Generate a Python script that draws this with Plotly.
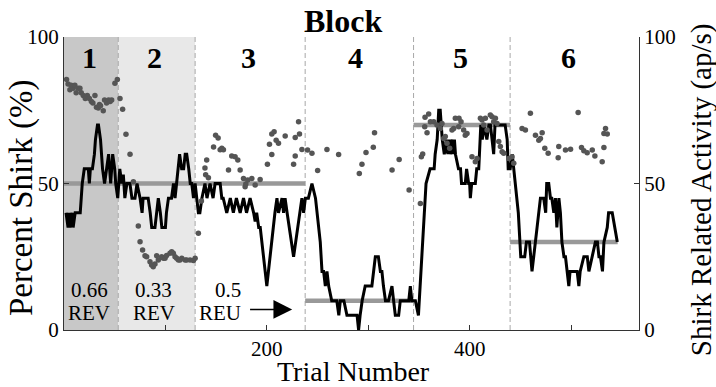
import plotly.graph_objects as go

# ---------------- data ----------------
line_trial = [2, 4, 5, 6, 8, 9, 11, 16, 17, 18, 20, 24, 25, 26, 28, 30, 31, 33, 34, 36, 37, 38, 40, 42, 44, 45, 46, 47, 48, 50, 51, 53, 54,
              55, 57, 58.5, 60, 62, 65, 67, 70, 72, 75, 77, 78, 83, 85, 86.5, 89.7, 91, 93, 95, 96.5, 100, 101, 103, 106, 108, 109.5, 111,
              114, 116, 118, 119.5, 121, 123, 124.5, 126, 127.7, 129.3,
              131, 132.5, 134, 136, 139, 141, 144, 147, 149, 154, 155.6, 157, 160.5, 164, 167, 170, 173.7, 177, 180, 183.5, 187, 188.5,
              190, 192, 193.5, 200, 208, 210, 211.5, 215, 216.5, 218, 220, 226.4, 234.6, 236.3, 238, 241, 244.5, 248, 252.7, 254.4, 256,
              257.7, 259.3, 261, 264, 269, 271, 272.5, 276, 279, 289, 290.5, 292, 294, 297, 303.6, 307, 310, 312, 313.5, 315, 317, 320,
              323.4, 325, 326.7, 330, 331.6, 340, 341.5, 343, 346.5, 349.5,
              357, 361, 365, 366, 368, 369.5, 371, 372, 373, 375, 377, 378.5, 380, 381, 383, 384, 385, 386, 389, 391, 392, 395.7, 397,
              399, 400, 400.7, 402, 405.6, 407, 409, 411, 412.5, 414, 417, 419, 420.5, 422, 423.7, 425, 428, 435, 437, 438, 440, 442,
              443.5, 445, 448,
              450.4, 454.3, 456, 459, 461.5, 463, 465, 466.5, 469.8, 473, 475, 476, 478, 479.7, 481, 483, 484.6, 486, 488, 489.5, 491,
              493, 494.5, 496, 497.8, 499, 506, 507.7, 509, 512.6, 516, 517.6, 521, 524, 526, 527.5, 529, 531, 532.4, 535.7, 537,
              540.6, 545.6]
line_pct = [40, 35, 40, 35, 40, 35, 40, 40, 45, 50, 55, 55, 50, 55, 55, 60, 65, 70, 70, 65, 60, 55, 50, 55, 60, 55, 50, 55, 60, 55, 50, 45, 50,
            55, 50, 53, 45, 50, 50, 45, 45, 50, 45, 40, 45, 45, 40, 35, 35, 40, 45, 40, 35, 35, 40, 45, 45, 50, 45, 50,
            60, 55, 55, 60, 60, 55, 50, 50, 45, 50,
            45, 40, 40, 45, 50, 45, 50, 45, 50, 50, 45, 45, 40, 45, 40, 45, 40, 45, 40, 45, 40, 37,
            40, 35, 35, 15, 40, 45, 40, 45, 40, 45, 40, 25, 45, 40, 45, 45, 50, 45, 30, 20, 20,
            15, 20, 15, 10, 10, 5, 10, 10, 5, 5, 0, 5, 10, 15, 15, 25, 25, 20, 20, 15, 10, 10,
            15, 10, 5, 5, 10, 10, 15, 10, 10, 5,
            50, 55, 55, 60, 65, 75, 75, 70, 65, 60, 65, 60, 65, 60, 65, 60, 65, 60, 55, 55, 50, 50, 55,
            50, 50, 45, 50, 50, 55, 55, 70, 65, 70, 65, 70, 70, 65, 60, 70, 70, 70, 65, 55, 55, 60,
            55, 50, 40,
            25, 25, 30, 30, 20, 25, 30, 35, 45, 45, 40, 50, 50, 45, 45, 40, 45, 35, 45, 40, 30,
            25, 25, 20, 15, 20, 20, 15, 20, 25, 25, 20, 25, 30, 30, 25, 25, 20, 30, 35, 40,
            40, 30]

dot_trial = [2.5, 4, 5.8, 7, 9, 10.7, 12, 14, 15.7, 17, 19, 21, 23, 25, 27, 28.5, 30.5, 32, 33.8, 35, 36, 38.7, 40, 42, 44, 45.5, 47, 50.2, 52.6,
             55.2, 57.8, 61.1, 65.1, 68.4, 73.3, 75, 77.5, 79.9, 81.5, 84.8, 86.4, 88, 89.7, 91.4, 93, 96.3, 98, 99.6, 101.2, 104.5,
             106.2, 107.8, 109.5, 111.1, 112.8, 114.4, 116.1, 119.4, 121, 124.3, 127.6, 129.3,
             132.5, 135.5, 139, 139.7, 140.7, 142.4, 147.5, 149.5, 152, 154, 155.6, 157.2, 162.2, 165.4, 168.7, 171.4, 173.7, 177,
             178.6, 179.3, 181.2, 185.2, 188.5, 193.4, 200.6, 202.6, 204.9, 204.9, 207.2, 209.2, 211.5, 218.1, 226.4, 228, 228,
             231.3, 232.2, 234.6, 240.2, 244.5, 250.1, 259.3, 270.8,
             291.2, 293.8, 297.8, 305, 306.2, 323.5, 330.5, 340.3,
             351.4, 352.4, 353.7, 355.7, 356, 358, 359.6, 361.3, 364.6, 367.8, 371.1, 372.7, 374.4, 376, 377.7, 380.3, 382.6, 384.3,
             385.9, 389.2, 389.5, 391.5, 394.1, 395.7, 397.4, 402.3, 405.6, 407.3, 410.6, 412.2, 413.9, 415.5, 417.2, 420.4, 422.1,
             423.7, 425.4, 427, 428.7, 430.3, 432, 433.6, 438.6, 441.8, 443.5,
             451.7, 455, 459.9, 464.9, 468.2, 469.8, 471.5, 474.1, 477.4, 487.3, 487.9, 494.5, 499.5, 507, 510.3, 512.6, 515.9,
             520.9, 523.5, 530.7, 532.4, 532.4, 534, 535.7]
dot_rate = [85.5, 84, 82, 83.5, 82.5, 83.5, 81, 82.5, 82.5, 81, 80, 79, 80, 79, 78, 77.5, 80, 76, 75.8, 77, 76.5, 74.8, 78.5, 77.5, 78.5, 78, 78.5, 84.2, 85.5,
            79, 75.3, 66.8, 60, 50.6, 35.5, 30.1, 27.3, 25.3, 25, 23.3, 22.2, 21.6, 22.5, 25.3, 23.9, 25, 24.5, 24.5, 25.4, 26.2,
            26.7, 26.2, 25, 24.5, 23.9, 23.9, 24.5, 23.9, 23.9, 23.9, 23.7, 24.5,
            33, 44, 55.3, 53, 58, 52, 62.5, 66.5, 65.5, 61.5, 62, 61.5, 54.6, 59.4, 59.1, 58, 54.6, 51.7,
            48.9, 49.8, 51.2, 51.7, 49.5, 51.4, 56.6, 63.4, 59.9, 66.9, 67.7, 64.8, 63.7, 66.2, 56.6, 59.4, 65.7,
            71.1, 66.9, 61.6, 61.4, 60.3, 54.4, 61.6, 59.9,
            53.4, 56.6, 60.6, 62.4, 67.3, 54.6, 58.2, 47.8,
            43.2, 59.1, 60.1, 69.4, 72.6, 67.3, 73.7, 71.1, 71.1, 70, 68.8, 70.5, 65.4, 66, 63.7, 62, 68.3, 68.8,
            72.3, 69.4, 72.3, 71.1, 68.3, 66.5, 67.1, 59.1, 57.4, 58.5, 72.3, 71.7, 70, 72.3, 68.3, 73.4, 72.8,
            71.1, 72.3, 70.5, 64.3, 62.6, 60.8, 60.3, 58.5, 59.1, 56.9,
            68.8, 68.3, 74, 66.5, 64.8, 65.4, 67.3, 62, 60.3, 58.8, 62.6, 61.4, 61.7, 74.2, 62.3, 61.2, 60.5,
            61.4, 59.4, 57.4, 62.3, 67.1, 68.8, 66.9]

block_edges = [53.5, 129.3, 237.8, 344.7, 439.9]
shade_start = [0, 53.5]
shade_end = [53.5, 129.3]
prob_start = [0, 237.8, 344.7, 439.9]
prob_end = [237.8, 344.7, 439.9, 546]
prob_level = [50, 10, 70, 30]

block_numbers = ["1", "2", "3", "4", "5", "6"]
block_number_x = [25, 89.7, 181.5, 287.7, 391.3, 497.4]
prob_labels = ["0.66", "0.33", "0.5"]
prob_label_x = [24.7, 88.7, 162]
rule_labels = ["REV", "REV", "REU"]
rule_label_x = [24.7, 88.7, 154]
arrow_from, arrow_to = 182, 225

x_tickvals = [100, 200, 300, 400, 500]
x_ticktext = ["", "200", "", "400", ""]
y_tickvals = [0, 50, 100]

# ---------------- figure ----------------
FONT = "Liberation Serif"
shade_colors = ["#c8c8c8", "#e8e8e8"]

fig = go.Figure()

shapes = []
for s, e, c in zip(shade_start, shade_end, shade_colors):
    shapes.append(dict(type="rect", xref="x", yref="y", x0=s, x1=e, y0=0, y1=100,
                       fillcolor=c, line=dict(width=0), layer="below"))
for b in block_edges:
    shapes.append(dict(type="line", xref="x", yref="y", x0=b, x1=b, y0=0, y1=100,
                       line=dict(color="#a8a8a8", width=1, dash="5px,3px"), layer="below"))

px, py = [], []
for s, e, lv in zip(prob_start, prob_end, prob_level):
    px += [s, e, None]
    py += [lv, lv, None]
fig.add_trace(go.Scatter(x=px, y=py, mode="lines", line=dict(color="#999999", width=4.5),
                         hoverinfo="skip", showlegend=False))
fig.add_trace(go.Scatter(x=line_trial, y=line_pct, mode="lines", line=dict(color="black", width=3),
                         showlegend=False))
fig.add_trace(go.Scatter(x=dot_trial, y=dot_rate, mode="markers", yaxis="y2",
                         marker=dict(color="#555555", size=5.5), showlegend=False))


def txt(x, y, text, size, xref="x", yref="y", angle=0):
    return dict(x=x, y=y, xref=xref, yref=yref, text=text, showarrow=False, textangle=angle,
                xanchor="center", yanchor="middle", font=dict(family=FONT, size=size, color="black"))


ann = []
for t, x in zip(block_numbers, block_number_x):
    ann.append(txt(x, 93, "<b>%s</b>" % t, 30))
for t, x in zip(prob_labels, prob_label_x):
    ann.append(txt(x, 13.6, t, 21))
for t, x in zip(rule_labels, rule_label_x):
    ann.append(txt(x, 5.9, t, 21))
ann.append(dict(x=arrow_to, y=7, ax=arrow_from, ay=7, xref="x", yref="y", axref="x", ayref="y",
                text="", showarrow=True, arrowhead=2, arrowsize=2.5, arrowwidth=1.5, arrowcolor="black"))
ann.append(txt(0.485, 1.053, "<b>Block</b>", 32, "paper", "paper"))
ann.append(txt(-0.075, 0.45, "Percent Shirk (%)", 33, "paper", "paper", -90))
ann.append(txt(1.11, 0.478, "Shirk Related Activity (ap/s)", 29, "paper", "paper", -90))
ann.append(txt(0.504, -0.143, "Trial Number", 28, "paper", "paper"))

axis_common = dict(showline=True, linecolor="#333333", linewidth=1, ticks="inside", ticklen=5,
                   tickcolor="#333333", showgrid=False, zeroline=False, automargin=False,
                   tickfont=dict(family=FONT, size=21, color="black"))

fig.update_layout(
    width=716, height=387, margin=dict(l=64, r=77, t=37, b=57),
    paper_bgcolor="white", plot_bgcolor="white",
    shapes=shapes, annotations=ann, showlegend=False,
    xaxis=dict(range=[0, 567], tickvals=x_tickvals, ticktext=x_ticktext, **axis_common),
    yaxis=dict(range=[0, 100], tickvals=y_tickvals, **axis_common),
    yaxis2=dict(range=[0, 100], tickvals=y_tickvals, overlaying="y", side="right", anchor="x", **axis_common),
)

fig.write_html("out.html", config={"displayModeBar": False},
               post_script="document.body.style.margin='0';document.body.style.padding='0';")
